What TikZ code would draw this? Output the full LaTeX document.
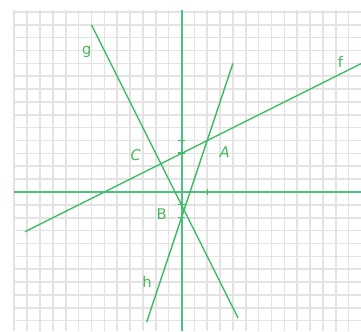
\documentclass[tikz,border=0pt]{standalone}
\usepackage{fontspec}
\setsansfont{DejaVu Sans}
\definecolor{Grid}{HTML}{E3E3E3}
\definecolor{Axis}{HTML}{4CC27E}
\definecolor{Graph}{HTML}{3DBB63}
\definecolor{Label}{HTML}{45B85A}
\tikzset{
  gridline/.style={draw=Grid,line width=1.4pt},
  axisline/.style={draw=Axis,line width=1.6pt},
  graph/.style={draw=Graph,line width=1.2pt},
  tickmark/.style={draw=Graph,line width=1.3pt},
  lbl/.style={text=Label,font=\sffamily\fontsize{13}{15}\selectfont,inner sep=0pt}
}

\begin{document}
\begin{tikzpicture}[x=0.4cm,y=0.4cm]
    \useasboundingbox (-14.11,-10.81) rectangle (13.96,14.93);
    \draw[gridline,step=1] (-13,-10.81) grid (13.96,14.15);
    % axes
    \coordinate (xl) at (-13,0);
    \coordinate (xr) at (13.96,0);
    \coordinate (yt) at (0.02,14.15);
    \coordinate (yb) at (0.02,-10.81);
    \draw[axisline] (xl) -- (xr);
    \draw[axisline] (yb) -- (yt);
    % lines f, g, h
    \coordinate (f1) at (-12.17,-3.09);
    \coordinate (f2) at (13.96,9.98);
    \coordinate (g1) at (-7,13);
    \coordinate (g2) at (4.4,-9.8);
    \coordinate (h1) at (4,10);
    \coordinate (h2) at (-2.7,-10.1);
    \draw[graph] (f1) -- (f2);
    \draw[graph] (g1) -- (g2);
    \draw[graph] (h1) -- (h2);
    % ticks
    \draw[tickmark] (2.04,-0.26) -- (2.04,0.26);
    \foreach \y in {4.02,3.02,-0.98,-1.98}
      \draw[tickmark] (-0.27,\y) -- (0.29,\y);
    % labels
    \node[lbl] (lf) at (12.36,10.13) {f};
    \node[lbl] (lg) at (-7.37,10.91) {g};
    \node[lbl] (lh) at (-2.67,-7.0) {h};
    \node[lbl] (lA) at (3.36,3.10) {\textit{A}};
    \node[lbl] (lB) at (-1.54,-1.75) {B};
    \node[lbl] (lC) at (-3.55,2.88) {\textit{C}};
\end{tikzpicture}
\end{document}
